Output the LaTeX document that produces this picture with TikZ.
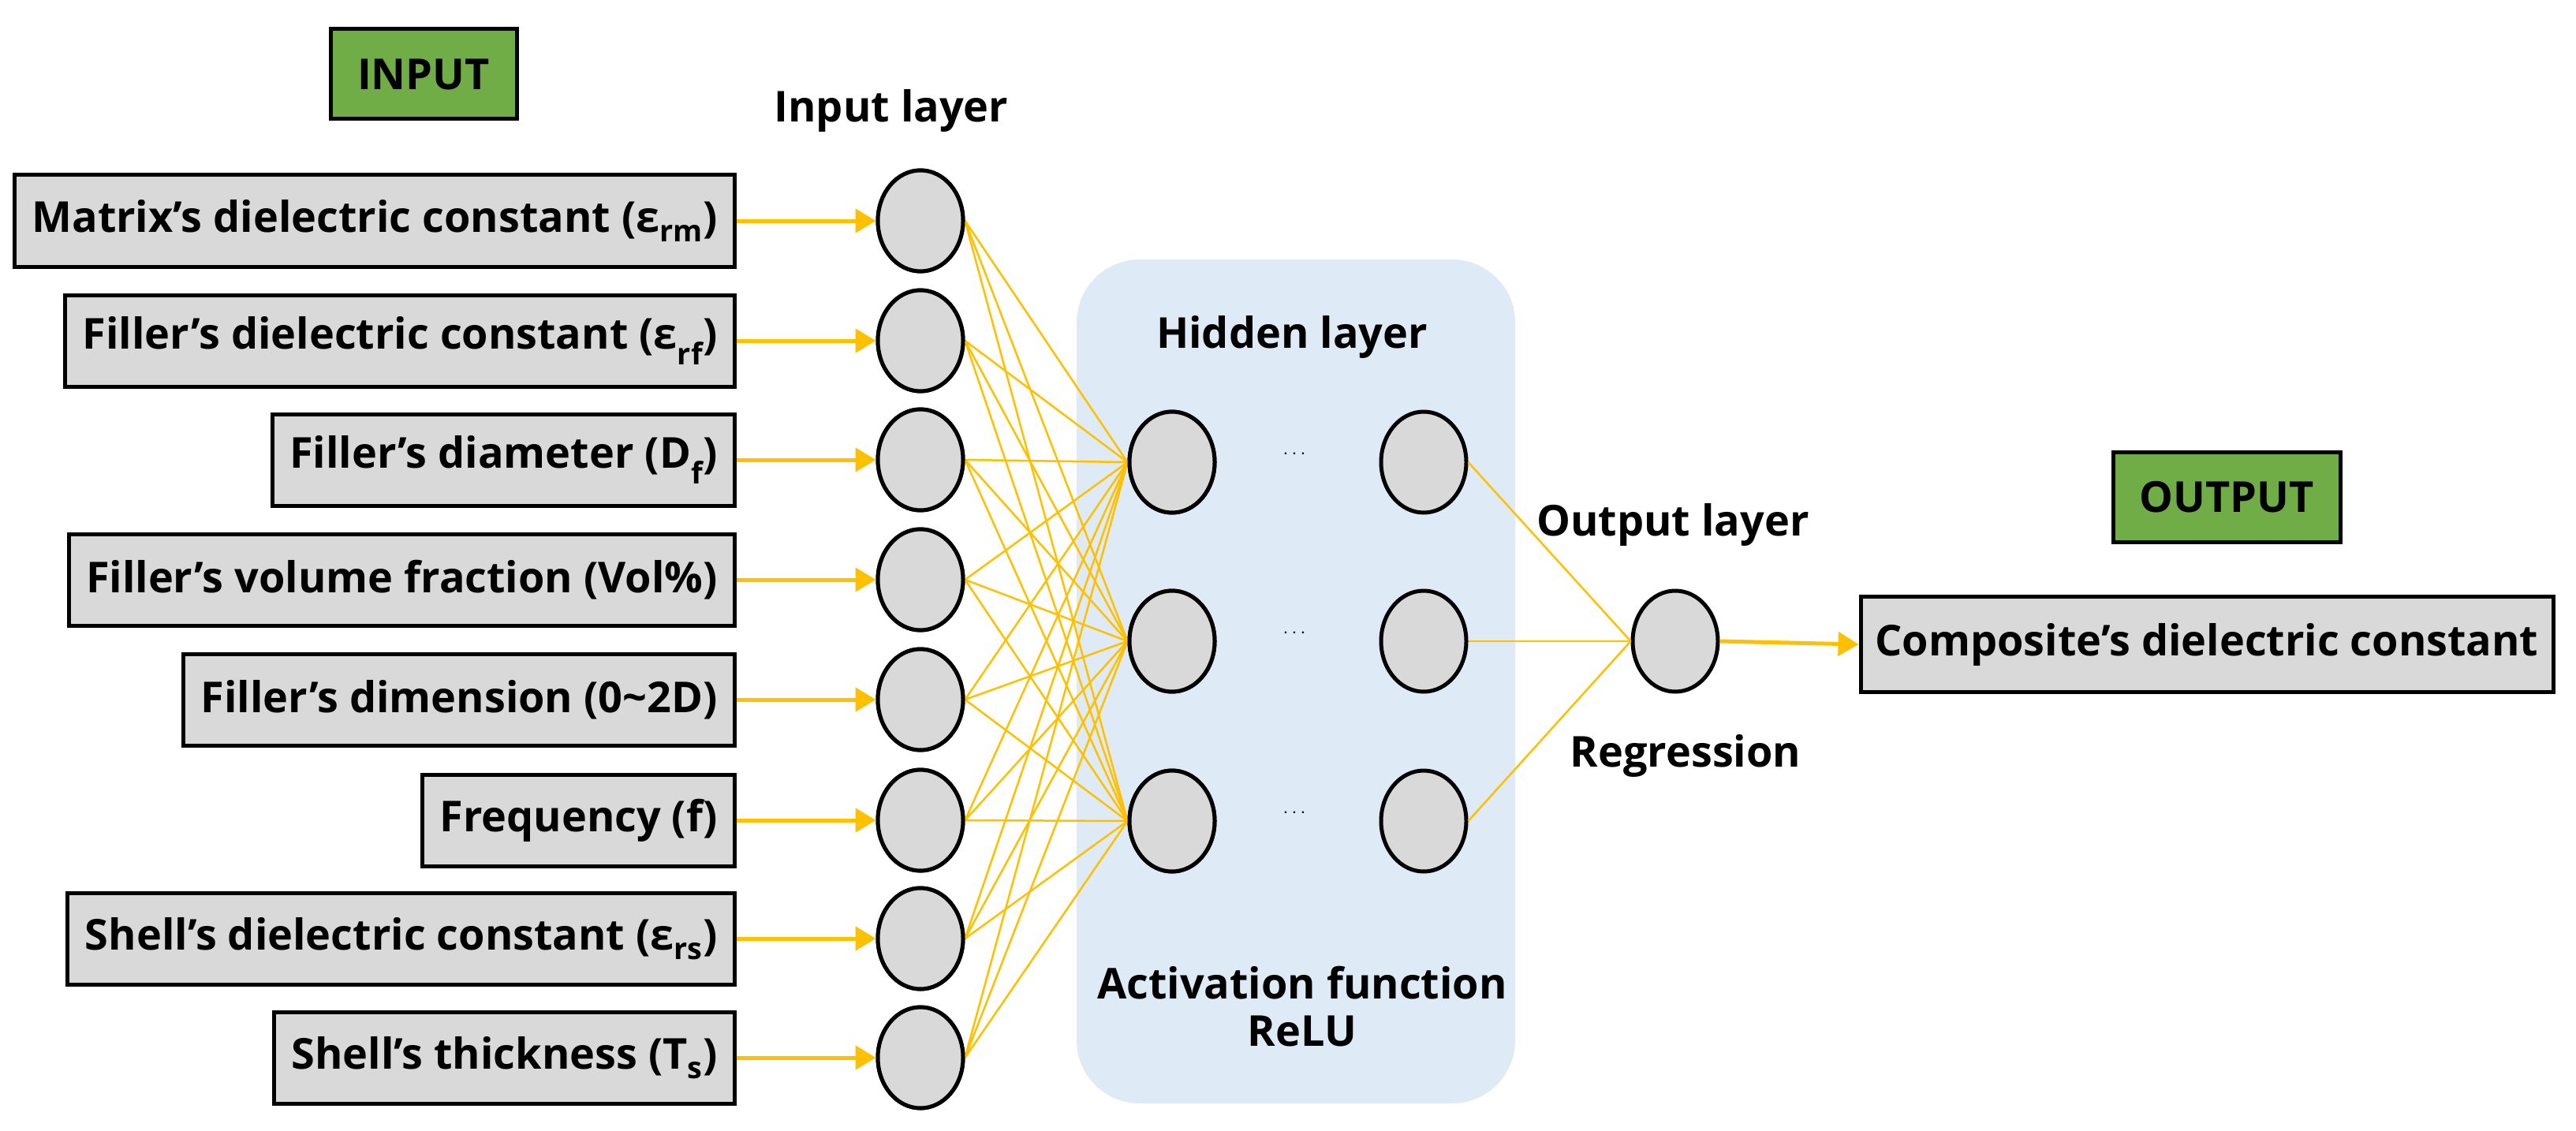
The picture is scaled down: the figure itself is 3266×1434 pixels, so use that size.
\documentclass[tikz,border=0pt]{standalone}
\usepackage{fontspec}
\setmainfont{Open Sans}
\usetikzlibrary{arrows.meta,shapes.geometric}
\definecolor{ylw}{HTML}{FFC000}
\definecolor{grn}{HTML}{70AD47}
\definecolor{gry}{HTML}{D9D9D9}
\definecolor{hbg}{HTML}{DEEBF7}
\begin{document}
\begin{tikzpicture}[x=1pt,y=-1pt,
  txt/.style={font=\fontsize{54}{60}\selectfont\bfseries},
  inbox/.style={draw=black,line width=5pt,fill=gry,minimum height=116pt,anchor=east,inner xsep=22pt,txt},
  tag/.style={draw=black,line width=5pt,fill=grn,minimum height=114pt,txt},
  neu/.style={draw=black,line width=5pt,fill=gry,ellipse,minimum width=108pt,minimum height=128pt,inner sep=0pt},
  fan/.style={ylw,line width=2.5pt},
  arr/.style={ylw,line width=5pt,-{Triangle[length=26pt,width=30pt]}}]
\useasboundingbox (0,0) rectangle (3266,1434);
\fill[white] (0,0) rectangle (3266,1434);
\fill[hbg,rounded corners=80pt] (1365,329) rectangle (1921,1399);
\node[tag,minimum width=236pt] (tin) at (537,94) {INPUT};
\node[tag,minimum width=288pt] (tout) at (2823,630) {OUTPUT};
\node[txt] (lin) at (1130,140) {Input layer};
\node[txt] (lhid) at (1638,427) {Hidden layer};
\node[txt] (lout) at (2121,665) {Output layer};
\node[txt] (lreg) at (2137,958) {Regression};
\node[txt,align=center] (lact) at (1651,1276) {Activation function\\ReLU};
\foreach \i/\y/\t in {1/280/{Matrix’s dielectric constant (ε\textsubscript{rm})},
  2/432/{Filler’s dielectric constant (ε\textsubscript{rf})},
  3/583/{Filler’s diameter (D\textsubscript{f})},
  4/735/{Filler’s volume fraction (Vol\%)},
  5/887/{Filler’s dimension (0\textasciitilde 2D)},
  6/1040/{Frequency (f)},
  7/1190/{Shell’s dielectric constant (ε\textsubscript{rs})},
  8/1341/{Shell’s thickness (T\textsubscript{s})}}{
  \node[inbox] (b\i) at (934,\y) {\t};
  \node[neu] (i\i) at (1167,\y) {};
  \draw[arr] (b\i.east) -- (i\i.west);
}
\foreach \j/\y in {1/586,2/813,3/1041}{
  \node[neu] (h\j) at (1486,\y) {};
  \node[neu] (g\j) at (1805,\y) {};
  \node[font=\fontsize{70}{70}\selectfont\bfseries] (d\j) at (1641,\y-10) {$\cdots$};
}
\node[neu] (o) at (2124,813) {};
\node[draw=black,line width=5pt,fill=gry,minimum width=878pt,minimum height=121pt,txt] (res) at (2798,817) {Composite’s dielectric constant};
\foreach \i in {1,...,8}{\foreach \j in {1,2,3}{\draw[fan] (i\i.east) -- (h\j.west);}}
\foreach \j in {1,2,3}{\draw[fan] (g\j.east) -- (o.west);}
\foreach \i in {1,...,8}{\node[neu] at (i\i) {};}
\foreach \j in {1,2,3}{\node[neu] at (h\j) {};}
\draw[arr] (o.east) -- (res.west);
\end{tikzpicture}
\end{document}
